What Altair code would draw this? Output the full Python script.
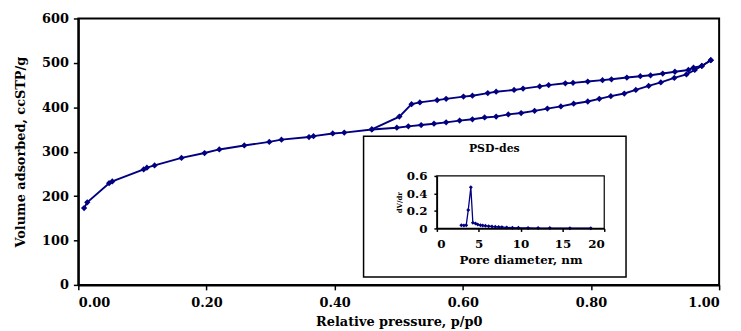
import altair as alt
import pandas as pd

# ---- main isotherm: adsorption branch (lower) ----
p_ads = [0.009, 0.014, 0.048, 0.053, 0.102, 0.107, 0.119, 0.161, 0.197, 0.220,
         0.259, 0.298, 0.317, 0.360, 0.367, 0.397, 0.415, 0.458, 0.497, 0.515,
         0.535, 0.555, 0.574, 0.595, 0.615, 0.634, 0.652, 0.671, 0.691, 0.712,
         0.732, 0.753, 0.773, 0.795, 0.813, 0.831, 0.852, 0.870, 0.890, 0.909,
         0.930, 0.949, 0.962, 0.973, 0.987]
v_ads = [173, 186, 229, 233, 260, 264, 269, 286, 297, 305,
         314, 322, 327, 333, 335, 341, 343, 350, 354, 357,
         360, 363, 366, 370, 373, 377, 379, 384, 387, 392,
         397, 402, 408, 413, 419, 425, 431, 439, 448, 456,
         466, 474, 484, 493, 506]

# ---- desorption branch (upper) ----
p_des = [0.987, 0.973, 0.960, 0.952, 0.931, 0.912, 0.893, 0.877, 0.856, 0.832,
         0.818, 0.795, 0.772, 0.760, 0.734, 0.720, 0.694, 0.680, 0.652, 0.639,
         0.615, 0.601, 0.574, 0.560, 0.533, 0.520, 0.501, 0.458]
v_des = [506, 493, 489, 484, 480, 476, 472, 470, 467, 463,
         461, 458, 455, 454, 450, 447, 442, 439, 435, 432,
         426, 424, 419, 416, 411, 407, 379, 350]

# ---- inset: pore size distribution (desorption) ----
pore_d = [2.92, 3.23, 3.51, 3.75, 4.06, 4.30, 4.62, 4.89, 5.21, 5.48, 5.80, 6.19,
          6.59, 6.98, 7.38, 7.77, 8.36, 9.03, 9.74, 10.9, 12.1, 13.5, 15.9, 18.4]
psd = [0.037, 0.034, 0.037, 0.21, 0.47, 0.064, 0.056, 0.045, 0.037, 0.034, 0.030, 0.026,
       0.022, 0.019, 0.017, 0.015, 0.011, 0.009, 0.0075, 0.006, 0.004, 0.004, 0.003, 0.003]

x_ticks = [0, 0.2, 0.4, 0.6, 0.8, 1.0]
y_ticks = [0, 100, 200, 300, 400, 500, 600]
ix_ticks = [0, 5, 10, 15, 20]
iy_ticks = [0, 0.2, 0.4, 0.6]

NAVY = "#000080"
FONT = "DejaVu Serif"

main_df = pd.DataFrame({
    "p": p_ads + p_des,
    "v": v_ads + v_des,
    "branch": ["adsorption"] * len(p_ads) + ["desorption"] * len(p_des),
    "idx": list(range(len(p_ads))) + list(range(len(p_des))),
})
inset_df = pd.DataFrame({"d": pore_d, "dv": psd})

W, H = 647, 269

x_main = alt.X("p:Q", scale=alt.Scale(domain=[0, 1], nice=False),
               axis=alt.Axis(title="Relative pressure, p/p0", values=x_ticks, format=".2f",
                             orient="bottom", labelPadding=7, titlePadding=6))
y_main = alt.Y("v:Q", scale=alt.Scale(domain=[0, 600], nice=False),
               axis=alt.Axis(title="Volume adsorbed, ccSTP/g", values=y_ticks,
                             orient="left", labelPadding=5, titlePadding=14))

main_line = alt.Chart(main_df).mark_line(color=NAVY, strokeWidth=1.9).encode(
    x=x_main, y=y_main, detail="branch:N", order="idx:Q")
main_pts = alt.Chart(main_df).mark_point(shape="diamond", filled=True, color=NAVY,
                                         size=40, opacity=1).encode(x=x_main, y=y_main)

box_df = pd.DataFrame({"k": [0]})
inset_box = alt.Chart(box_df).mark_rect(fill="white", stroke="black", strokeWidth=1.5).encode(
    x=alt.value(288), x2=alt.value(553), y=alt.value(119), y2=alt.value(261))
inset_title = alt.Chart(box_df).mark_text(text="PSD-des", font=FONT, fontWeight="bold",
                                          fontSize=11, color="black").encode(
    x=alt.value(420), y=alt.value(132))

main_layer = alt.layer(main_line, main_pts, inset_box, inset_title)

ix = alt.X("d:Q", scale=alt.Scale(domain=[0, 20], range=[362, 531], nice=False),
           axis=alt.Axis(title="Pore diameter, nm", values=ix_ticks, orient="bottom",
                         offset=-57, tickSize=3, labelFontSize=12, titleFontSize=12,
                         labelPadding=7, titlePadding=5, domainWidth=1.5, zindex=2))
iy = alt.Y("dv:Q", scale=alt.Scale(domain=[0, 0.6], range=[212, 159], nice=False),
           axis=alt.Axis(title="dV/dr", values=iy_ticks, format=".1~f", orient="left",
                         offset=-362, tickSize=3, labelFontSize=12, titleFontSize=7,
                         labelPadding=7, titlePadding=4, domainWidth=1.5, zindex=2))

frame_df = pd.DataFrame({"d": [0], "d2": [20], "dv": [0], "dv2": [0.6]})
inset_frame = alt.Chart(frame_df).mark_rect(fill="white", fillOpacity=0, stroke="black",
                                            strokeWidth=1.2).encode(
    x=ix, x2="d2:Q", y=iy, y2="dv2:Q")
inset_line = alt.Chart(inset_df).mark_line(color=NAVY, strokeWidth=1.3).encode(x=ix, y=iy)
inset_pts = alt.Chart(inset_df).mark_point(shape="diamond", filled=True, color=NAVY,
                                           size=16, opacity=1).encode(x=ix, y=iy)

inset_layer = alt.layer(inset_frame, inset_line, inset_pts)

chart = alt.layer(main_layer, inset_layer).resolve_scale(
    x="independent", y="independent"
).properties(
    width=W, height=H,
    background="white",
    autosize=alt.AutoSizeParams(type="none"),
    padding={"left": 71, "top": 9, "right": 14, "bottom": 46},
).configure_view(
    stroke="black", strokeWidth=2
).configure_axis(
    labelFont=FONT, titleFont=FONT, labelFontWeight="bold", titleFontWeight="bold",
    labelFontSize=13, titleFontSize=13, labelColor="black", titleColor="black",
    domainColor="black", domainWidth=2, tickColor="black", tickWidth=1.5, tickSize=5,
    grid=False,
)

chart.save("out.html", embed_options={"renderer": "svg", "actions": False})
